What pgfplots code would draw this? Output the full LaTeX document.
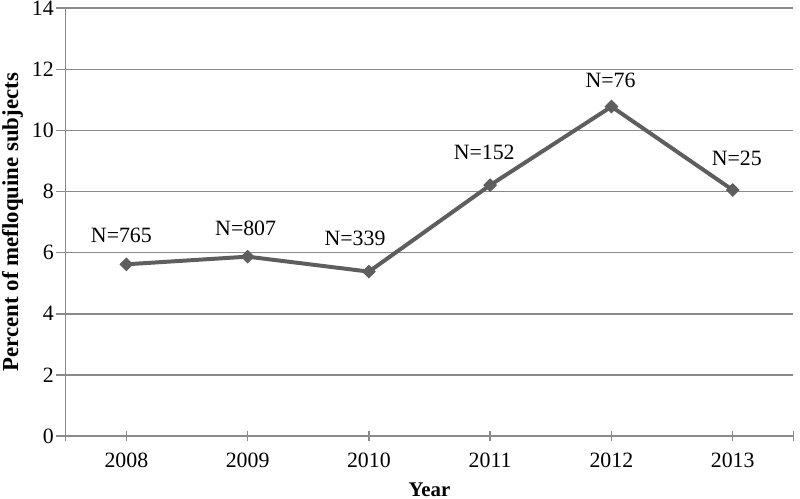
\documentclass[border=0pt]{standalone}
\usepackage{pgfplots}
\pgfplotsset{compat=1.18}
\usepackage{pgfplotstable}
\usepackage{fontspec}
\setmainfont{Liberation Serif}

\definecolor{linegray}{HTML}{5E5E5E}
\definecolor{gridgray}{HTML}{8A8A8A}

\pgfplotstableread{
year pct label dx dy
2008 5.62 {N=765} -2.5 14.5
2009 5.87 {N=807} -1 14.5
2010 5.38 {N=339} -7 17
2011 8.21 {N=152} -3 16.5
2012 10.78 {N=76} -0.5 13
2013 8.05 {N=25} 2 16
}\mefdata

\begin{document}
\begin{tikzpicture}
\begin{axis}[
    scale only axis,
    width=366.5pt, height=215.5pt,
    xmin=2007.5, xmax=2013.5,
    ymin=0, ymax=14,
    xtick={2008,...,2013},
    xticklabels={2008,2009,2010,2011,2012,2013},
    extra x ticks={2007.5,2013.5},
    extra x tick labels={},
    extra x tick style={grid=none},
    ytick={0,2,...,14},
    ymajorgrids,
    grid style={gridgray, line width=0.75pt},
    axis line style={gridgray, line width=0.75pt},
    axis x line*=bottom,
    axis y line*=left,
    x tick style={gridgray, line width=0.75pt},
    y tick style={gridgray, line width=0.75pt},
    xtick pos=bottom, ytick pos=left,
    xtick align=center,
    ytick align=outside,
    major tick length=5pt,
    tick label style={font=\fontsize{11}{12}\selectfont},
    /pgf/number format/assume math mode=true,
    xticklabel style={inner ysep=0pt, yshift=-5.7pt},
    yticklabel style={inner ysep=0.5pt, xshift=2.5pt},
    xlabel={\textbf{Year}},
    ylabel={\textbf{Percent of mefloquine subjects}},
    xlabel style={font=\fontsize{10.5}{12}\selectfont, inner ysep=1pt, yshift=-1.5pt},
    ylabel style={font=\fontsize{11.5}{12}\selectfont, inner ysep=1pt, yshift=0pt},
    clip=false,
]
\addplot[
    color=linegray, line width=2pt,
    mark=square*, mark size=2.2pt,
    mark options={rotate=45, fill=linegray, draw=linegray, line width=0.5pt},
    point meta=explicit symbolic,
    visualization depends on={\thisrow{dx} \as \dx},
    visualization depends on={\thisrow{dy} \as \dy},
    nodes near coords,
    every node near coord/.append style={anchor=center, xshift=\dx, yshift=\dy,
        font=\fontsize{11}{12}\selectfont, text=black},
] table[x=year, y=pct, meta=label] {\mefdata};
\end{axis}
\end{tikzpicture}
\end{document}
